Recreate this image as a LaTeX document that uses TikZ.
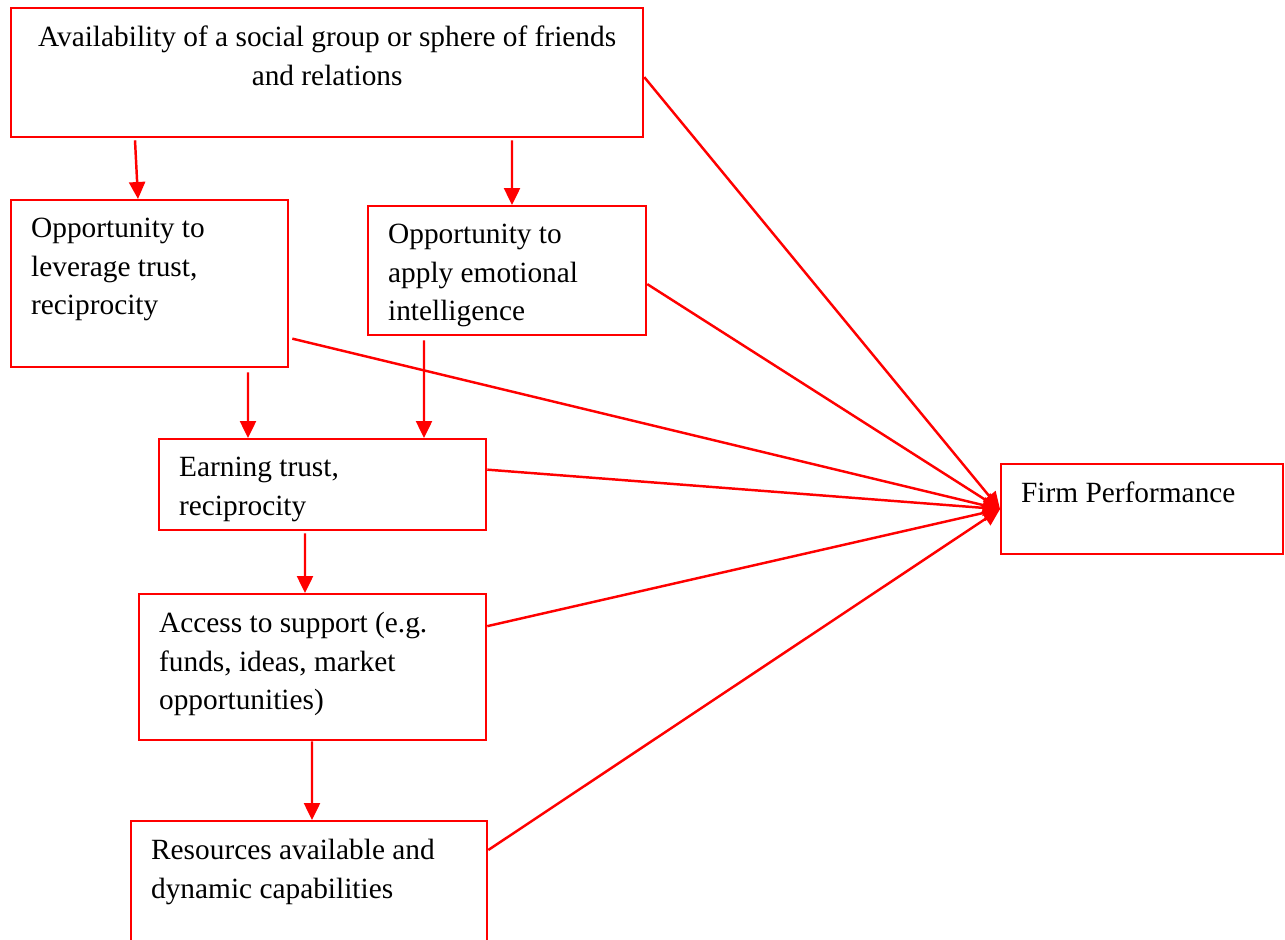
\documentclass[tikz,border=0pt]{standalone}
\usepackage{fontspec}
\setmainfont{Liberation Serif}
\usetikzlibrary{arrows.meta}

\newcommand{\boxtext}[3]{\parbox[t][#1][t]{#2}{#3}}

\begin{document}
\begin{tikzpicture}[
    factor/.style={draw=red, line width=1.3pt, anchor=north west,
                   inner xsep=0.4cm, inner ysep=0.36cm,
                   font=\fontsize{16.7}{22}\selectfont},
    arrow/.style={-{Triangle[length=3.4mm, width=3.2mm]}, red, line width=1.4pt},
]
    \useasboundingbox (0,0) rectangle (25.7,-18.78);
    \node[factor] (social) at (0.2,-0.14) {\boxtext{1.86cm}{11.84cm}{\centering Availability of a social group or sphere of friends\\and relations}};
    \node[factor] (leverage) at (0.2,-3.98) {\boxtext{2.62cm}{4.74cm}{Opportunity to\\leverage trust,\\reciprocity}};
    \node[factor] (emotional) at (7.34,-4.10) {\boxtext{1.86cm}{4.76cm}{Opportunity to\\apply emotional\\intelligence}};
    \node[factor] (earning) at (3.16,-8.76) {\boxtext{1.10cm}{5.74cm}{Earning trust,\\reciprocity}};
    \node[factor] (access) at (2.76,-11.86) {\boxtext{2.20cm}{6.14cm}{Access to support (e.g.\\funds, ideas, market\\opportunities)}};
    \node[factor] (resources) at (2.6,-16.4) {\boxtext{1.88cm}{6.32cm}{Resources available and\\dynamic capabilities}};
    \node[factor] (performance) at (20.0,-9.26) {\boxtext{1.08cm}{4.84cm}{Firm Performance}};
    \draw[arrow] ([xshift=2.5cm, yshift=-0.04cm]social.south west) -- ([xshift=2.56cm]leverage.north west);
    \draw[arrow] ([xshift=10.04cm, yshift=-0.04cm]social.south west) -- ([xshift=2.9cm]emotional.north west);
    \draw[arrow] ([xshift=4.76cm, yshift=-0.08cm]leverage.south west) -- ([xshift=1.8cm]earning.north west);
    \draw[arrow] ([xshift=1.14cm, yshift=-0.08cm]emotional.south west) -- ([xshift=5.32cm]earning.north west);
    \draw[arrow] ([xshift=2.94cm, yshift=-0.04cm]earning.south west) -- ([xshift=3.34cm]access.north west);
    \draw[arrow] ([xshift=3.48cm]access.south west) -- ([xshift=3.64cm]resources.north west);
    \draw[arrow] ([yshift=-0.09cm]social.east) -- (performance.west);
    \draw[arrow] ([yshift=-0.27cm]emotional.east) -- (performance.west);
    \draw[arrow] ([shift={(0.06cm,-1.1cm)}]leverage.east) -- (performance.west);
    \draw[arrow] ([yshift=0.3cm]earning.east) -- (performance.west);
    \draw[arrow] ([yshift=0.82cm]access.east) -- (performance.west);
    \draw[arrow] ([yshift=-0.6cm]resources.north east) -- (performance.west);
\end{tikzpicture}
\end{document}
